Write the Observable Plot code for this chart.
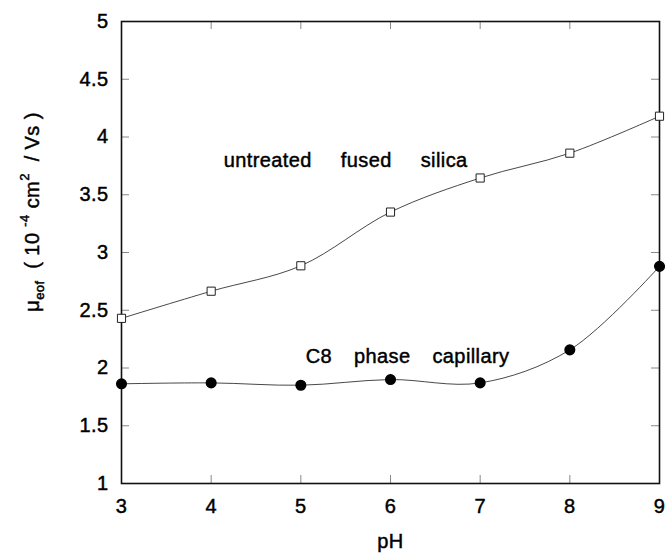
<!DOCTYPE html>
<html>
<head>
<meta charset="utf-8">
<script src="https://cdn.jsdelivr.net/npm/d3@7"></script>
<script src="https://cdn.jsdelivr.net/npm/@observablehq/plot@0.6"></script>
<style>
  body { margin: 0; background: #fff; }
  #chart svg { display: block; }
</style>
</head>
<body>
<div id="chart"></div>
<script>
const pH = [3, 4, 5, 6, 7, 8, 9];
const untreated = [2.43, 2.665, 2.885, 3.35, 3.645, 3.86, 4.18];
const c8 = [1.863, 1.871, 1.851, 1.90, 1.871, 2.157, 2.88];
const xTicks = [3, 4, 5, 6, 7, 8, 9];
const yTicks = [1, 1.5, 2, 2.5, 3, 3.5, 4, 4.5, 5];
const annotations = [
  {label: "untreated fused silica", x: 5.50, y: 3.795},
  {label: "C8 phase capillary", x: 6.19, y: 2.10}
];
const wordGaps = [23, 16];

const untreatedData = pH.map((x, i) => ({x, y: untreated[i]}));
const c8Data = pH.map((x, i) => ({x, y: c8[i]}));

const W = 665, H = 556;
const mL = 121, mR = 6, mT = 21, mB = 73;
const innerW = W - mL - mR, innerH = H - mT - mB;
const tickLen = 8;

const font = "'Liberation Sans', Arial, sans-serif";
const plot = Plot.plot({
  width: W,
  height: H,
  marginLeft: mL,
  marginRight: mR,
  marginTop: mT,
  marginBottom: mB,
  style: {fontFamily: font, fontSize: "20px", color: "#000", background: "#fff", overflow: "visible"},
  x: {domain: [3, 9]},
  y: {domain: [1, 5]},
  marks: [
    Plot.axisX(xTicks, {anchor: "bottom", tickSize: 0, tickPadding: 15, label: null, fontSize: 20}),
    Plot.axisY(yTicks, {anchor: "left", tickSize: 0, tickPadding: 13, label: null, fontSize: 20, tickFormat: d => String(d)}),
    Plot.tickX(xTicks, {x: d => d, insetTop: innerH - tickLen, stroke: "#888", strokeWidth: 1}),
    Plot.tickX(xTicks, {x: d => d, insetBottom: innerH - tickLen, stroke: "#888", strokeWidth: 1}),
    Plot.tickY(yTicks, {y: d => d, insetRight: innerW - tickLen, stroke: "#888", strokeWidth: 1}),
    Plot.tickY(yTicks, {y: d => d, insetLeft: innerW - tickLen, stroke: "#888", strokeWidth: 1}),
    Plot.frame({stroke: "#111", strokeWidth: 1.6}),
    Plot.line(untreatedData, {x: "x", y: "y", curve: "catmull-rom", stroke: "#333", strokeWidth: 0.9}),
    Plot.line(c8Data, {x: "x", y: "y", curve: "catmull-rom", stroke: "#333", strokeWidth: 0.9}),
    Plot.dot(untreatedData, {x: "x", y: "y", symbol: "square", r: 4.6, fill: "#fff", stroke: "#222", strokeWidth: 1}),
    Plot.dot(c8Data, {x: "x", y: "y", symbol: "circle", r: 4.8, fill: "#000", stroke: "#000"}),
    Plot.text(annotations, {x: "x", y: "y", text: "label", fontSize: 20, fill: "#000"}),
    Plot.text(["pH"], {frameAnchor: "bottom", dy: 64, text: d => d, fontSize: 20, fill: "#000"})
  ]
});

const svg = d3.select(plot);
const yl = svg.append("text")
  .attr("transform", "translate(39,212) rotate(-90)")
  .attr("text-anchor", "middle")
  .attr("font-family", font)
  .attr("font-size", 20)
  .attr("fill", "#000");
yl.append("tspan").text("μ");
yl.append("tspan").attr("font-size", 13).attr("dy", 5).text("eof");
yl.append("tspan").attr("dy", -5).text("  ( 10 ");
yl.append("tspan").attr("font-size", 13).attr("dy", -10).text("-4");
yl.append("tspan").attr("dy", 10).text(" cm");
yl.append("tspan").attr("font-size", 13).attr("dy", -10).text("2");
yl.append("tspan").attr("dy", 10).text("  / Vs )");

// heavier, slightly spaced glyphs like the scanned original
svg.selectAll("text")
  .attr("stroke", "#000")
  .attr("stroke-width", 0.45)
  .style("letter-spacing", "0.4px");

const annoTexts = svg.selectAll('g[aria-label="text"]').filter((d, i) => i === 0).selectAll("text");
annoTexts.each(function(d, i) {
  this.style.wordSpacing = wordGaps[i] + "px";
});

document.getElementById("chart").appendChild(plot);
</script>
</body>
</html>
